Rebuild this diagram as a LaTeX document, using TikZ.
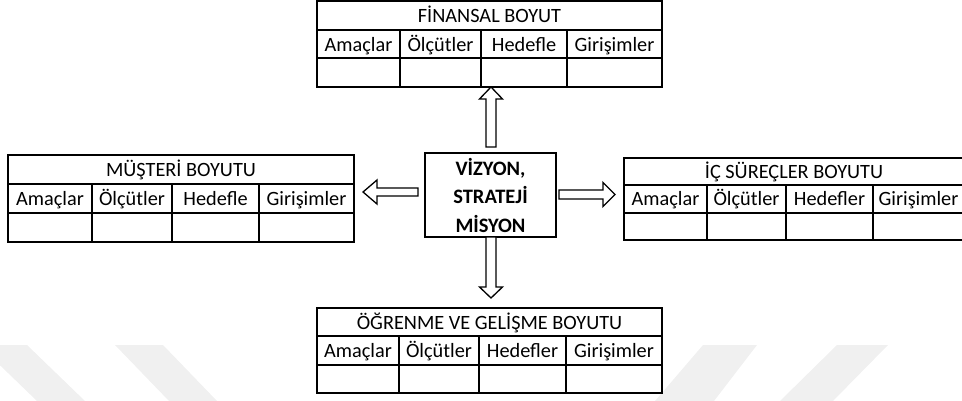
\documentclass[tikz,border=0pt]{standalone}
\usepackage{fontspec}
\setmainfont{Carlito}
\tikzset{
  tab/.style={draw=black, line width=1.7pt},
  txt/.style={inner sep=0pt, font=\fontsize{20.3}{24}\selectfont, anchor=base},
  blk/.style={draw=black, fill=white, line width=1.3pt, line join=miter},
  wm/.style={fill=black!6, draw=none},
  corebox/.style={draw=black, line width=1.7pt, minimum width=131pt, minimum height=84pt, inner sep=0pt,
    align=center, font=\fontsize{20.5}{28.5}\selectfont\bfseries}
}
% #1 name, #2..#6 column x positions, #7 top y, #8 bottom y, #9 title
\newcommand\dtab[9]{%
  \draw[tab] (#2,#7) rectangle (#6,#8);
  \draw[tab] (#2,{#7+(#8-#7)/3}) -- (#6,{#7+(#8-#7)/3});
  \draw[tab] (#2,{#7+2*(#8-#7)/3}) -- (#6,{#7+2*(#8-#7)/3});
  \foreach \xx in {#3,#4,#5} \draw[tab] (\xx,{#7+(#8-#7)/3}) -- (\xx,#8);
  \node[txt] (#1-t) at ({(#2+#6)/2},{#7+(#8-#7)/3-7}) {#9};
  \node[txt] (#1-a) at ({(#2+#3)/2},{#7+2*(#8-#7)/3-7}) {Amaçlar};
  \node[txt] (#1-b) at ({(#3+#4)/2},{#7+2*(#8-#7)/3-7}) {Ölçütler};
  \node[txt] (#1-c) at ({(#4+#5)/2},{#7+2*(#8-#7)/3-7}) {\hed};
  \node[txt] (#1-d) at ({(#5+#6)/2},{#7+2*(#8-#7)/3-7}) {Girişimler};
}
\begin{document}
\begin{tikzpicture}[x=1pt,y=-1pt]
\useasboundingbox (0,0) rectangle (962,401);
\clip (0,0) rectangle (962,401);
% watermark stripes
\fill[wm] (-21,345) -- (27,345) -- (85,401) -- (37,401) -- cycle;
\fill[wm] (115,345) -- (163,345) -- (217,401) -- (169,401) -- cycle;
\fill[wm] (703,345) -- (757,345) -- (714,401) -- (655,401) -- cycle;
\fill[wm] (837,345) -- (888,345) -- (833,401) -- (780,401) -- cycle;
% tables
\def\hed{Hedefle}
\dtab{fin}{317}{400}{481}{567}{662}{1}{87}{FİNANSAL BOYUT}
\dtab{mus}{8}{92}{172}{259}{354}{155}{242}{MÜŞTERİ BOYUTU}
\def\hed{Hedefler}
\dtab{ic}{624}{707}{786}{873}{964}{158}{240}{İÇ SÜREÇLER BOYUTU}
\dtab{ogr}{317}{399}{479}{566}{662}{308}{393}{ÖĞRENME VE GELİŞME BOYUTU}
% core
\node[corebox] (core) at (490.5,195) {VİZYON,\\STRATEJİ\\MİSYON};
% block arrows
\draw[blk] (486,147) -- (486,99) -- (479.5,99) -- (491,87) -- (502.5,99) -- (496,99) -- (496,147) -- cycle;
\draw[blk] (486,237) -- (486,287) -- (479.5,287) -- (491,298) -- (502.5,287) -- (496,287) -- (496,237) -- cycle;
\draw[blk] (418,188) -- (377,188) -- (377,180) -- (363,192) -- (377,204) -- (377,196) -- (418,196) -- cycle;
\draw[blk] (559,190) -- (603,190) -- (603,182.5) -- (615,194.5) -- (603,206.5) -- (603,199) -- (559,199) -- cycle;
\end{tikzpicture}
\end{document}
